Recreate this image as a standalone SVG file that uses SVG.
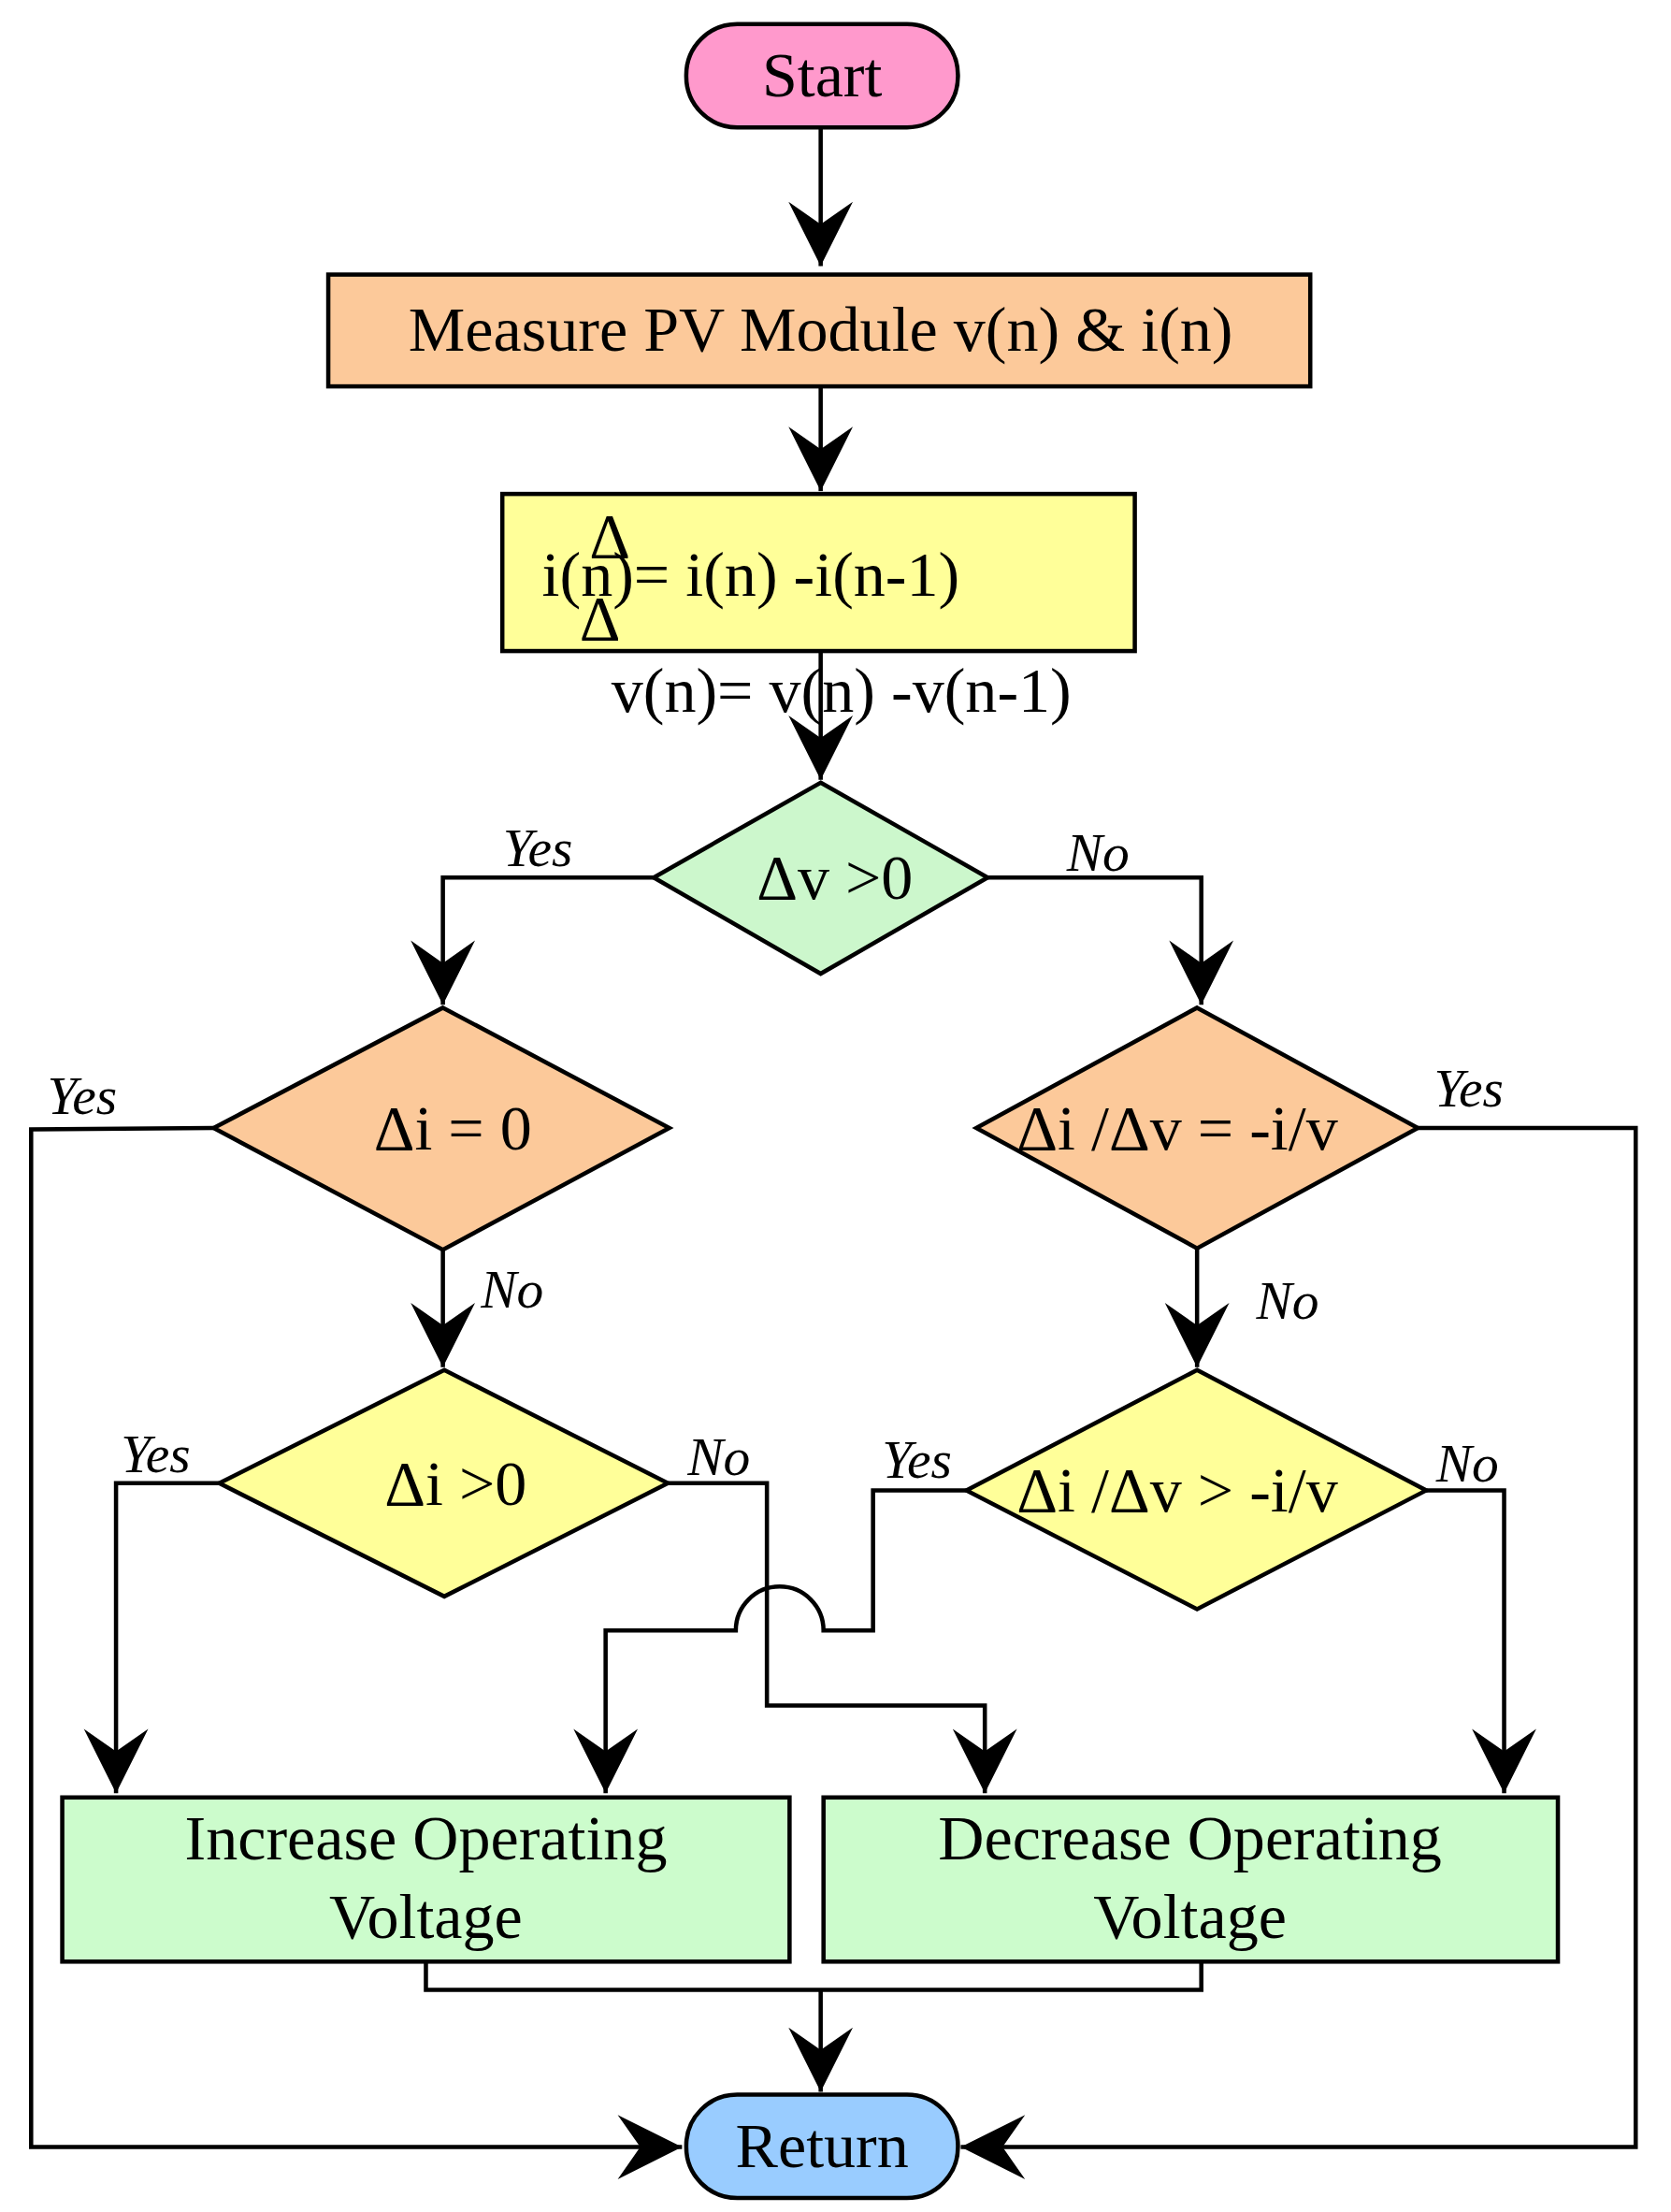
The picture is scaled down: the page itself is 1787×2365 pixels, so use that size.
<svg xmlns="http://www.w3.org/2000/svg" width="1787" height="2365" viewBox="0 0 1787 2365">
<style>
.s{stroke:#000;stroke-width:3;}
.t{font-family:"Liberation Serif",serif;font-size:45px;text-anchor:middle;}
.l{font-family:"Liberation Serif",serif;font-size:38px;font-style:italic;text-anchor:middle;}
.c{fill:none;stroke:#000;stroke-width:3;}
</style>
<defs>
<marker id="a" markerUnits="userSpaceOnUse" markerWidth="50" markerHeight="50" viewBox="-42 -22 44 44" refX="0" refY="0" orient="auto">
<path d="M0,0 L-40,-20 L-26,0 L-40,20 Z" fill="#000"/>
</marker>
</defs>
<rect width="1787" height="2365" fill="#fff"/>
<g transform="scale(1.5132)">
<g id="connectors">
<path class="c" d="M580,90 V188" marker-end="url(#a)"/>
<path class="c" d="M580,273 V347" marker-end="url(#a)"/>
<path class="c" d="M580,460 V551" marker-end="url(#a)"/>
<path class="c" d="M462,620 H313 V710" marker-end="url(#a)"/>
<path class="c" d="M698,620 H849 V710" marker-end="url(#a)"/>
<path class="c" d="M151,797 L22,798 V1517 H482" marker-end="url(#a)"/>
<path class="c" d="M1002,797 H1156 V1517 H679" marker-end="url(#a)"/>
<path class="c" d="M313,883 V966" marker-end="url(#a)"/>
<path class="c" d="M846,882 V966" marker-end="url(#a)"/>
<path class="c" d="M155,1048 H82 V1267" marker-end="url(#a)"/>
<path class="c" d="M472,1048 H542 V1205 H696 V1267" marker-end="url(#a)"/>
<path class="c" d="M683,1053 H617 V1152 H582 A31,31 0 0 0 520,1152 H428 V1267" marker-end="url(#a)"/>
<path class="c" d="M1008,1053 H1063 V1267" marker-end="url(#a)"/>
<path class="c" d="M301,1386 V1406 H849 V1386"/>
<path class="c" d="M580,1406 V1478" marker-end="url(#a)"/>
</g>
<g id="start"><rect class="s" x="485" y="17" width="192" height="73" rx="36" fill="#ff99cc"/><text class="t" x="581" y="68">Start</text></g>
<g id="measure"><rect class="s" x="232" y="194" width="694" height="79" fill="#fcc99a"/><text class="t" x="580" y="248">Measure PV Module v(n) &amp; i(n)</text></g>
<g id="delta"><rect class="s" x="355" y="349" width="447" height="111" fill="#ffff99"/>
<text class="t" x="383" y="421" style="text-anchor:start">i(n)= i(n) -i(n-1)</text>
<text class="t" x="431" y="394">Δ</text><text class="t" x="424" y="452">Δ</text>
<text class="t" x="432" y="503" style="text-anchor:start">v(n)= v(n) -v(n-1)</text></g>
<g id="d1"><polygon class="s" points="580,553 698,620 580,688 462,620" fill="#ccf7cc"/><text class="t" x="590" y="635">Δv &gt;0</text></g>
<g id="d2"><polygon class="s" points="313,712 473,797 313,883 151,797" fill="#fcc99a"/><text class="t" x="320" y="812">Δi = 0</text></g>
<g id="d3"><polygon class="s" points="846,712 1002,797 846,882 690,797" fill="#fcc99a"/><text class="t" x="832" y="812">Δi /Δv = -i/v</text></g>
<g id="d4"><polygon class="s" points="314,968 472,1048 314,1128 155,1048" fill="#ffff99"/><text class="t" x="322" y="1063">Δi &gt;0</text></g>
<g id="d5"><polygon class="s" points="846,968 1008,1053 846,1137 683,1053" fill="#ffff99"/><text class="t" x="832" y="1068">Δi /Δv &gt; -i/v</text></g>
<g id="inc"><rect class="s" x="44" y="1270" width="514" height="116" fill="#ccfccc"/><text class="t" x="301" y="1314">Increase Operating</text><text class="t" x="301" y="1369">Voltage</text></g>
<g id="dec"><rect class="s" x="582" y="1270" width="519" height="116" fill="#ccfccc"/><text class="t" x="841" y="1314">Decrease Operating</text><text class="t" x="841" y="1369">Voltage</text></g>
<g id="return"><rect class="s" x="485" y="1480" width="192" height="73" rx="36" fill="#99ccff"/><text class="t" x="581" y="1531">Return</text></g>
<g id="labels">
<text class="l" x="380" y="612">Yes</text><text class="l" x="776" y="615">No</text>
<text class="l" x="58" y="787">Yes</text><text class="l" x="1038" y="782">Yes</text>
<text class="l" x="362" y="924">No</text><text class="l" x="910" y="932">No</text>
<text class="l" x="110" y="1040">Yes</text><text class="l" x="508" y="1042">No</text>
<text class="l" x="648" y="1044">Yes</text><text class="l" x="1037" y="1047">No</text>
</g>
</g>
</svg>
